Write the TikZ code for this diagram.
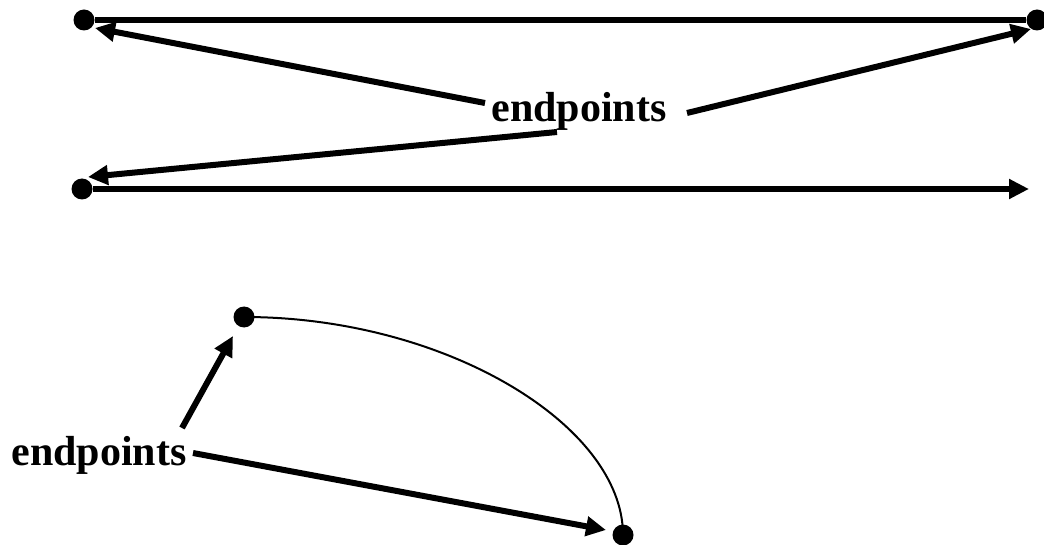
\documentclass[tikz,border=0pt]{standalone}
\usepackage{fontspec}
\setmainfont{Liberation Serif}
\usetikzlibrary{arrows.meta}
\begin{document}
\begin{tikzpicture}[x=1pt,y=-1pt,
  dot/.style={circle,fill=black,inner sep=0pt,minimum size=21pt},
  thick line/.style={line width=6pt},
  pointer/.style={line width=6pt,-{Triangle[length=20pt,width=19pt]}},
  lbl/.style={inner sep=0pt,anchor=base,font=\fontsize{42}{46}\selectfont\bfseries}]
\useasboundingbox (0,0) rectangle (1044,545);
% top figure
\node[dot] (A) at (84,20) {};
\node[dot] (B) at (1037,20) {};
\node[dot] (C) at (82,189) {};
\coordinate (D) at (1029,189);
\draw[thick line] (A) -- (B);
\draw[pointer] (C) -- (D);
\node[lbl] (L1) at (579,122) {endpoints};
\coordinate (s1) at (485,103);
\coordinate (t1) at (95,28);
\coordinate (s2) at (687,113);
\coordinate (t2) at (1031,29);
\coordinate (s3) at (557,132);
\coordinate (t3) at (88,177);
\draw[pointer] (s1) -- (t1);
\draw[pointer] (s2) -- (t2);
\draw[pointer] (s3) -- (t3);
% bottom figure
\node[dot] (E) at (244,317) {};
\node[dot] (F) at (623,535) {};
\draw[line width=2pt] (E.center) .. controls (445,317) and (623,425) .. (F.center);
\node[lbl] (L2) at (99,465) {endpoints};
\coordinate (s4) at (182,428);
\coordinate (t4) at (233,336);
\coordinate (s5) at (193,453);
\coordinate (t5) at (606,530);
\draw[pointer] (s4) -- (t4);
\draw[pointer] (s5) -- (t5);
\end{tikzpicture}
\end{document}
